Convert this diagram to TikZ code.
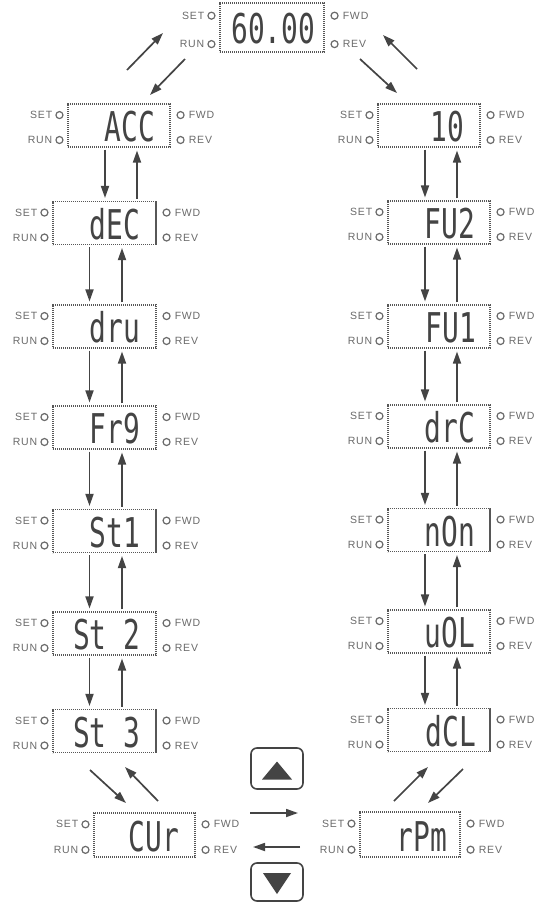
\documentclass[tikz,border=0pt]{standalone}
\usepackage{fontspec}
\usetikzlibrary{arrows.meta,calc}
\newfontfamily\segfont[FakeStretch=0.68]{DejaVu Sans Mono}
\newfontfamily\ledfont[LetterSpace=8]{Liberation Sans}
\definecolor{ink}{HTML}{444444}
\definecolor{ledgray}{HTML}{6A6A6A}
\tikzset{
  panelbox/.style={rectangle, draw=ink!90, line width=1.1pt, dash pattern=on 1.1pt off 0.9pt, inner sep=0pt},
  segtext/.style={inner sep=0pt, text=ink, font=\segfont\fontsize{41}{41}\selectfont},
  ledc/.style={circle, draw=ledgray, line width=1.2pt, minimum size=7pt, inner sep=0pt},
  ledlabel/.style={inner sep=0pt, text=ledgray, font=\ledfont\fontsize{10.5}{10.5}\selectfont},
  arr/.style={draw=ink, line width=1.7pt, -{Triangle[length=12pt,width=8pt]}},
  vdn/.style={arr, shorten <=2pt, shorten >=3pt},
  btnbox/.style={rectangle, draw=ink, line width=1.6pt, rounded corners=6pt, inner sep=0pt, minimum width=52pt},
}
% name, cx, cy, w, h, text, right offset, baseline offset
\newcommand\lcdpanel[8]{%
  \node[panelbox, minimum width=#4pt, minimum height=#5pt] (#1) at (#2,#3) {};
  \node[segtext, anchor=base east] (#1-txt) at ($(#1.south east)+(-#7,-#8)$) {#6};
  \node[ledc] (#1-set) at ($(#1.north west)+(-8,{0.27*#5})$) {};
  \node[ledc] (#1-run) at ($(#1.north west)+(-8,{0.85*#5})$) {};
  \node[ledc] (#1-fwd) at ($(#1.north east)+(10,{0.27*#5})$) {};
  \node[ledc] (#1-rev) at ($(#1.north east)+(10,{0.85*#5})$) {};
  \node[ledlabel, anchor=east] (#1-setl) at ($(#1-set.center)+(-7,0)$) {SET};
  \node[ledlabel, anchor=east] (#1-runl) at ($(#1-run.center)+(-7,0)$) {RUN};
  \node[ledlabel, anchor=west] (#1-fwdl) at ($(#1-fwd.center)+(8,0)$) {FWD};
  \node[ledlabel, anchor=west] (#1-revl) at ($(#1-rev.center)+(8,0)$) {REV};
}
% vertical pair of arrows between panel #1 (upper) and #2 (lower), down at x=#3, up at x=#4
\newcommand\vpair[4]{%
  \draw[vdn] (#1.south -| #3,0) -- (#2.north -| #3,0);
  \draw[vdn] (#2.north -| #4,0) -- (#1.south -| #4,0);
}
\begin{document}
\begin{tikzpicture}[x=1pt,y=-1pt]
\fill[white] (0,0) rectangle (535,903);
\useasboundingbox (0,0) rectangle (535,903);

% top display
\lcdpanel{main}{272}{27.5}{104}{49}{60.00}{9}{9}

% left column
\lcdpanel{acc}{119}{125.5}{102}{43}{ACC}{15}{6}
\lcdpanel{dec}{104.5}{223}{103}{43}{dEC}{16}{6}
\lcdpanel{dru}{104.5}{326.5}{103}{43}{dru}{16}{6}
\lcdpanel{frq}{104.5}{427.5}{103}{43}{Fr9}{16}{6}
\lcdpanel{sta}{104.5}{531}{103}{43}{St1}{16}{6}
\lcdpanel{stb}{104.5}{633.5}{103}{43}{St 2}{16}{6}
\lcdpanel{stc}{104.5}{731}{103}{43}{St 3}{16}{6}

% right column
\lcdpanel{ten}{429}{125.5}{102}{43}{10}{16}{6}
\lcdpanel{fub}{439}{222.5}{102}{43}{FU2}{15}{6}
\lcdpanel{fua}{439}{326.5}{102}{43}{FU1}{14}{6}
\lcdpanel{drc}{439}{426.5}{102}{43}{drC}{15}{6}
\lcdpanel{non}{439}{530}{102}{43}{nOn}{15}{6}
\lcdpanel{uol}{439}{631.5}{102}{43}{uOL}{15}{6}
\lcdpanel{dcl}{439}{730}{102}{43}{dCL}{14}{6}

% bottom row
\lcdpanel{cur}{144.5}{835}{101}{44}{CUr}{16}{6}
\lcdpanel{rpm}{410}{834.5}{100}{45}{rPm}{13}{6}

% vertical arrows
\vpair{acc}{dec}{105}{137}
\vpair{dec}{dru}{89.5}{122}
\vpair{dru}{frq}{89.5}{122}
\vpair{frq}{sta}{89.5}{122}
\vpair{sta}{stb}{89.5}{122}
\vpair{stb}{stc}{89.5}{122}
\vpair{ten}{fub}{425}{457}
\vpair{fub}{fua}{425}{457}
\vpair{fua}{drc}{425}{457}
\vpair{drc}{non}{425}{457}
\vpair{non}{uol}{425}{457}
\vpair{uol}{dcl}{425}{457}

% diagonal and horizontal arrows (free ends)
\coordinate (tl1a) at (127,70);  \coordinate (tl1b) at (163,33);
\coordinate (tl2a) at (185,59);  \coordinate (tl2b) at (150,95);
\coordinate (tr1a) at (360,59);  \coordinate (tr1b) at (397,93);
\coordinate (tr2a) at (417,69);  \coordinate (tr2b) at (383,35);
\coordinate (bl1a) at (90,770);  \coordinate (bl1b) at (126,803);
\coordinate (bl2a) at (158,801); \coordinate (bl2b) at (125,767);
\coordinate (br1a) at (394,801); \coordinate (br1b) at (428,767);
\coordinate (br2a) at (463,769); \coordinate (br2b) at (428,803);
\coordinate (h1a) at (250,813);  \coordinate (h1b) at (298,813);
\coordinate (h2a) at (300,847);  \coordinate (h2b) at (253,847);
\foreach \p in {tl1,tl2,tr1,tr2,bl1,bl2,br1,br2,h1,h2}
  \draw[arr] (\p a) -- (\p b);

% buttons
\node[btnbox, minimum height=41pt] (upbtn) at (277,768.5) {};
\fill[ink] ($(upbtn.center)+(0,-7)$) -- ($(upbtn.center)+(-15,11)$) -- ($(upbtn.center)+(15,11)$) -- cycle;
\node[btnbox, minimum height=38pt] (dnbtn) at (277,882) {};
\fill[ink] ($(dnbtn.center)+(0,12)$) -- ($(dnbtn.center)+(-14,-9)$) -- ($(dnbtn.center)+(14,-9)$) -- cycle;
\end{tikzpicture}
\end{document}
